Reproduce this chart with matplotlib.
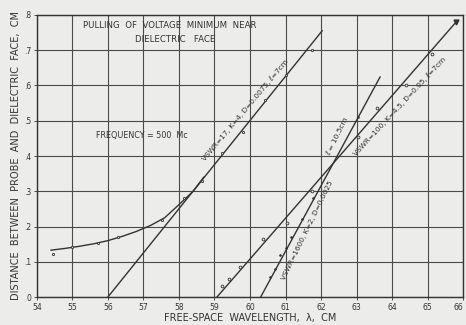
import numpy as np
import matplotlib.pyplot as plt

# wavelength ticks and distance ticks
x_ticks = [54, 55, 56, 57, 58, 59, 60, 61, 62, 63, 64, 65, 66]
y_ticks = [0, 0.1, 0.2, 0.3, 0.4, 0.5, 0.6, 0.7, 0.8]
y_tick_labels = ['0', '.1', '.2', '.3', '.4', '.5', '.6', '.7', '.8']

# curve near short wavelengths (VSWR=17 case, measured)
curve_x = [54.4, 54.8, 55.2, 55.6, 56.0, 56.4, 56.8, 57.2, 57.6, 58.0, 58.4, 58.7]
curve_y = [0.133, 0.138, 0.144, 0.151, 0.160, 0.172, 0.186, 0.203, 0.225, 0.262, 0.300, 0.340]
pts_a_x = [54.45, 55.0, 55.72, 56.28, 57.52, 58.14, 58.65, 59.2, 59.8, 60.42, 61.0, 61.75]
pts_a_y = [0.122, 0.142, 0.153, 0.170, 0.218, 0.280, 0.329, 0.408, 0.468, 0.560, 0.630, 0.700]

# straight lines (theory)
line_a_x = [56.0, 62.03]
line_a_y = [0.0, 0.755]
line_c_x = [59.07, 65.8]
line_c_y = [0.0, 0.78]
line_d_x = [60.3, 63.66]
line_d_y = [0.0, 0.624]

# measured points on lines C and D
pts_c_x = [59.2, 59.4, 59.72, 60.37, 61.04, 61.75, 63.04, 63.58, 64.4, 65.13]
pts_c_y = [0.030, 0.050, 0.085, 0.165, 0.210, 0.300, 0.454, 0.536, 0.600, 0.690]
pts_d_x = [60.56, 60.7, 60.85, 61.0, 61.15, 61.46, 61.77, 63.04]
pts_d_y = [0.057, 0.080, 0.120, 0.140, 0.170, 0.220, 0.280, 0.510]

ink = '#333333'
plt.rcParams['font.family'] = ['DejaVu Sans']

fig = plt.figure(figsize=(4.66, 3.25), dpi=100, facecolor='#ececea')
ax = fig.add_axes([0.079, 0.086, 0.915, 0.868])
ax.set_facecolor('#ececea')

ax.set_xlim(54, 66)
ax.set_ylim(0, 0.8)
ax.set_xticks(x_ticks)
ax.set_xticklabels([str(v) for v in x_ticks])
ax.set_yticks(y_ticks)
ax.set_yticklabels(y_tick_labels)
ax.tick_params(labelsize=5.5, colors=ink, length=2, width=0.6, pad=2)
ax.get_xticklabels()[-1].set_ha('right')
ax.grid(True, color='#4a4a4a', linewidth=0.8)
for s in ax.spines.values():
    s.set_color(ink)
    s.set_linewidth(1.0)

ax.plot(curve_x, curve_y, color=ink, lw=1.0)
ax.plot(line_a_x, line_a_y, color=ink, lw=1.0)
ax.plot(line_c_x, line_c_y, color=ink, lw=1.0)
ax.plot(line_d_x, line_d_y, color=ink, lw=1.0)
ax.plot(line_c_x[-1], line_c_y[-1], marker='v', color=ink, ms=3.5)

ax.plot(pts_a_x, pts_a_y, 'o', color=ink, ms=1.6, mfc='#dddddd', mew=0.6)
ax.plot(pts_c_x, pts_c_y, 'o', color=ink, ms=2.0, mfc='#ececea', mew=0.6)
ax.plot(pts_d_x, pts_d_y, 'o', color=ink, ms=1.3, mew=0.5)

ax.text(57.75, 0.77, 'PULLING  OF  VOLTAGE  MINIMUM  NEAR', ha='center', va='center',
        fontsize=6.2, color=ink)
ax.text(57.9, 0.73, 'DIELECTRIC   FACE', ha='center', va='center', fontsize=6.2, color=ink)
ax.text(56.95, 0.457, 'FREQUENCY = 500  Mc', ha='center', va='center', fontsize=5.8, color=ink)

fl = 5.3
ax.text(59.86, 0.53, 'VSWR=17, K=4, D=0.0075, ℓ=7cm', ha='center', va='center',
        fontsize=fl, color=ink, rotation=50, rotation_mode='anchor')
ax.text(64.2, 0.54, 'VSWR=100, K=4.5, D=0.05, ℓ=7cm', ha='center', va='center',
        fontsize=fl, color=ink, rotation=47, rotation_mode='anchor')
ax.text(62.45, 0.455, 'ℓ = 10.5cm', ha='center', va='center',
        fontsize=fl, color=ink, rotation=64, rotation_mode='anchor')
ax.text(61.6, 0.19, 'VSWR=1600, K=2, D=0.0025', ha='center', va='center',
        fontsize=fl, color=ink, rotation=64, rotation_mode='anchor')

ax.set_xlabel('FREE-SPACE  WAVELENGTH,  λ,  CM', fontsize=7, color=ink, labelpad=1)
ax.set_ylabel('DISTANCE  BETWEEN  PROBE  AND  DIELECTRIC  FACE,  CM', fontsize=7,
              color=ink, labelpad=2)

fig.savefig('out.png', dpi=100, facecolor=fig.get_facecolor())
